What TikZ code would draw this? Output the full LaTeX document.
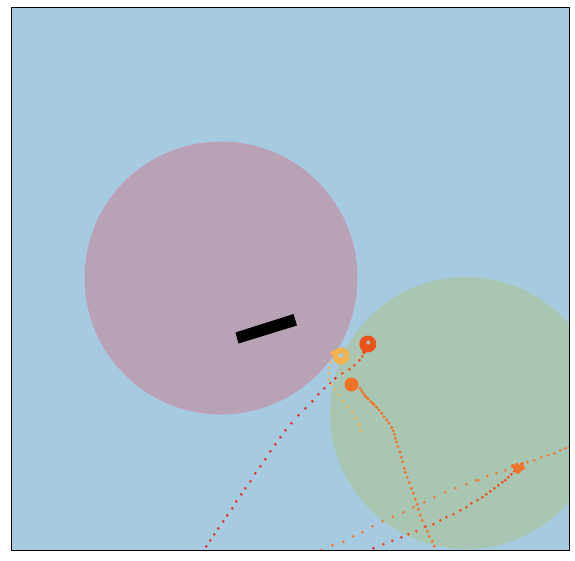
\documentclass[tikz,border=0pt]{standalone}
\definecolor{bgblue}{HTML}{A6CAE0}
\definecolor{pinkc}{HTML}{B8A2B6}
\definecolor{pinkedge}{HTML}{C29CB8}
\definecolor{greenc}{HTML}{A9C6B3}
\definecolor{redd}{HTML}{E8302A}
\definecolor{orred}{HTML}{EE4E1E}
\definecolor{loopc}{HTML}{F0501A}
\definecolor{paleor}{HTML}{F4B24E}
\definecolor{blobor}{HTML}{F07226}
\definecolor{lineor}{HTML}{F27A32}
\tikzset{dotr/.style={fill=redd},dotor/.style={fill=orred},dotpale/.style={fill=paleor},dotblob/.style={fill=blobor},dotline/.style={fill=lineor}}
\begin{document}
\begin{tikzpicture}[x=1pt,y=-1pt]
\useasboundingbox (0,0) rectangle (575,561);
\begin{scope}
\clip (11,8) rectangle (569,550);
\fill[bgblue] (11,8) rectangle (569,550);
\fill[pinkc] (221,278) circle (136pt);
\draw[pinkedge,line width=0.8pt] (221,278) circle (136pt);
\fill[greenc] (466,413) circle (136pt);
% black bar
\fill[black] (235.5,332.5) -- (293.5,314) -- (297,325.5) -- (238.5,343.5) -- cycle;
% red path
\foreach \x/\y in {206.3/546.3,210.3/540.3,214.3/534.3,218.3/528.3,223.3/521.3,227.3/515.3,232.3/508.3,236.3/501.3,241.3/494.3,245.3/488.3,250.3/481.3,255.3/473.3,260.3/466.3,265.3/459.3,270.3/451.3,275.3/444.3,280.3/437.3,285.3/430.3,291.3/423.3,298.3/415.3,305.3/408.3,312.3/401.3,318.3/394.3,324.3/388.3,330.3/383.3,335.3/378.3}
  \fill[dotr] (\x,\y) circle (1.5pt);
\foreach \x/\y in {342.3/373.3,349.3/369.3,354.3/365.3,359.3/360.3,362.3/356.3}
  \fill[dotor] (\x,\y) circle (1.5pt);
% pale orange path
\foreach \x/\y in {330.7/362,329/368,328.7/373.3,328.7/379.3,331/384.5,335/389.3,339.3/395.3,343.3/401.3,347.3/407.3,352.3/412.3,356.3/418.3,359.3/424.3,360.3/430.3}
  \fill[dotpale] (\x,\y) circle (1.5pt);
\fill[paleor,even odd rule] (341,356) circle (8.5pt) (341,355.5) circle (2.6pt);
\fill[paleor] (330,353) -- (334,349.5) -- (334,357) -- cycle;
% loop
\fill[loopc,even odd rule] (367.8,344) circle (8.5pt) (368.3,342.5) circle (2.2pt);
\fill[loopc] (364,352) circle (2pt);
% orange blob and dense line
\fill[blobor] (351.5,384.5) circle (7pt);
\foreach \x/\y in {356/386,360/388.3,361.7/390.7,363.3/393.3,365/395.7,366.7/397.5,368.3/399,371/401.7,372.7/403.3,374.3/405,376.7/407.3,379/410,381.7/413.3,384/416.7,386.7/420,389/423.3,391.7/427.3,393.3/430.7,394.3/434.3,395.3/438.3,396.5/442,398/446.5,400/451.7,401.3/457.3,402.7/461.7,404.3/468.3,405.3/472.3,407.3/477.3,409.3/482.7,411.3/488.3,413.3/493.3,415.3/499.3,417.3/504.3,418.3/509.3,420.3/515.3,422.3/520.3,425.3/526.3,427.3/531.3,429.3/536.3,432.3/541.3,434.3/546.3}
  \fill[dotblob] (\x,\y) circle (1.6pt);
% straight orange line
\foreach \x/\y in {321.3/550,332.3/545.3,343.3/541.7,353.3/536.3,362.3/532.3,372.3/526.3,382.3/521.3,392.8/516.8,403.3/512.3,413.3/507.3,424.3/502.3,434.3/497.3,445.3/492.3,455.3/488.3,466.3/484.3,476.3/480.3,478.3/480.3,487.3/476.3,496.3/473.3,505.3/470.3,527.3/462.3,534.3/460.3,541.3/457.3,548.3/455.3,554.3/453.3,560.3/450.3,565.3/448.3,569.3/446.3}
  \fill[dotline] (\x,\y) circle (1.5pt);
% orange-red line to blob
\fill[dotr] (373.3,548.3) circle (1.5pt);
\fill[dotr] (401.3,537.3) circle (1.5pt);
\foreach \x/\y in {383.3/544.3,392.3/540.8,408.3/534.3,416.3/531.3,425.3/526.7,433.3/524.3,440.3/520.3,446.3/517.3,453.3/514.3,460.3/510.3,466.3/507.3,471.3/503.3,477.3/500.3,482.3/497.3,486.3/494.3,490.3/491.3,494.3/488.3,498.3/485.3,502.3/482.3,505.3/480.3,508.3/477.3,511.3/474.3,514.3/471.3}
  \fill[dotor] (\x,\y) circle (1.5pt);
% small blob
\foreach \x/\y in {513/466,515/468,517/465,519/467,521/466,523/468,516/470,520/470,518/472,522/464}
  \fill[blobor] (\x,\y) circle (2pt);
\end{scope}
\draw[black,line width=1pt] (11,8) rectangle (569,550);
\end{tikzpicture}
\end{document}
